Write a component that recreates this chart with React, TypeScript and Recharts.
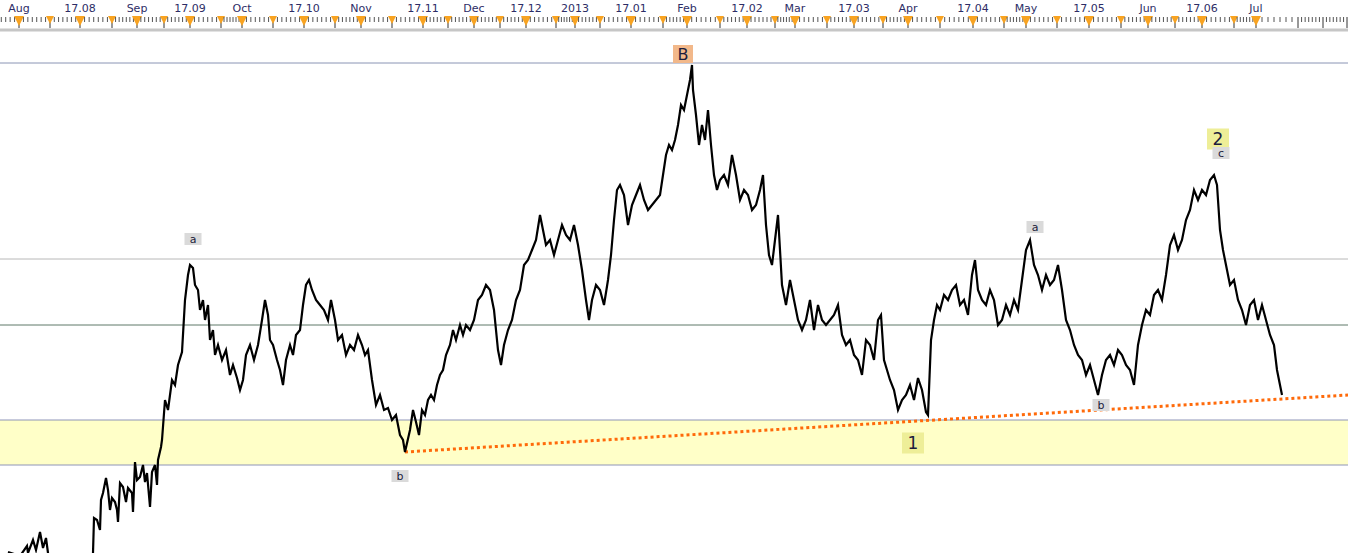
import React from 'react';
import {
    ComposedChart,
    Line,
    XAxis,
    YAxis,
    ReferenceLine,
    ReferenceArea,
    ReferenceDot,
} from 'recharts';

// bar 0 = 1 Aug 2012, one bar per plot pixel
const closes: [number, number][] = [
    [-11, 1.2001], [1, 1.1997], [8, 1.2007], [9, 1.2000], [14, 1.2013], [17, 1.2003], [21, 1.2021],
    [24, 1.2005], [27, 1.2015], [29, 1.2000], [36, 1.1983], [46, 1.1968], [56, 1.1973], [66, 1.1978],
    [73, 1.1993], [74, 1.2000], [75, 1.2035], [78, 1.2033], [81, 1.2023], [82, 1.2053], [84, 1.2060],
    [87, 1.2075], [89, 1.2063], [91, 1.2043], [93, 1.2055], [96, 1.2051], [98, 1.2043], [99, 1.2031],
    [101, 1.2070], [104, 1.2066], [107, 1.2051], [109, 1.2065], [113, 1.2060], [114, 1.2041], [116, 1.2091],
    [118, 1.2073], [121, 1.2076], [124, 1.2088], [126, 1.2071], [128, 1.2080], [131, 1.2046], [133, 1.2081],
    [136, 1.2088], [138, 1.2068], [139, 1.2093], [142, 1.2106], [143, 1.2113], [146, 1.2153], [149, 1.2143],
    [153, 1.2173], [156, 1.2168], [159, 1.2188], [163, 1.2201], [166, 1.2253], [169, 1.2278], [171, 1.2288],
    [174, 1.2285], [176, 1.2268], [179, 1.2263], [181, 1.2243], [184, 1.2253], [186, 1.2233], [189, 1.2248],
    [191, 1.2213], [194, 1.2223], [196, 1.2198], [199, 1.2208], [203, 1.2193], [207, 1.2203], [211, 1.2178],
    [214, 1.2188], [218, 1.2175], [221, 1.2163], [224, 1.2173], [227, 1.2198], [231, 1.2208], [235, 1.2193],
    [239, 1.2208], [243, 1.2233], [246, 1.2253], [249, 1.2238], [251, 1.2213], [254, 1.2208], [258, 1.2193],
    [261, 1.2183], [264, 1.2168], [267, 1.2193], [271, 1.2208], [274, 1.2198], [277, 1.2218], [281, 1.2223],
    [284, 1.2248], [287, 1.2268], [290, 1.2273], [293, 1.2263], [297, 1.2253], [301, 1.2248], [305, 1.2243],
    [309, 1.2233], [312, 1.2253], [316, 1.2233], [319, 1.2213], [323, 1.2218], [327, 1.2198], [331, 1.2208],
    [335, 1.2203], [339, 1.2218], [343, 1.2208], [346, 1.2198], [349, 1.2203], [353, 1.2173], [357, 1.2148],
    [361, 1.2158], [365, 1.2143], [369, 1.2145], [373, 1.2133], [377, 1.2138], [381, 1.2118], [384, 1.2113],
    [386, 1.2101], [391, 1.2123], [394, 1.2143], [397, 1.2131], [400, 1.2118], [403, 1.2143], [406, 1.2138],
    [409, 1.2153], [412, 1.2158], [415, 1.2153], [418, 1.2168], [421, 1.2178], [424, 1.2183], [427, 1.2198],
    [431, 1.2208], [434, 1.2223], [437, 1.2213], [441, 1.2228], [444, 1.2218], [447, 1.2228], [451, 1.2223],
    [455, 1.2233], [459, 1.2253], [463, 1.2258], [467, 1.2268], [471, 1.2263], [475, 1.2243], [479, 1.2203],
    [482, 1.2188], [485, 1.2208], [489, 1.2223], [493, 1.2233], [497, 1.2253], [501, 1.2263], [505, 1.2288],
    [509, 1.2293], [513, 1.2303], [517, 1.2313], [521, 1.2338], [524, 1.2323], [527, 1.2308], [531, 1.2313],
    [535, 1.2298], [539, 1.2313], [543, 1.2328], [547, 1.2318], [551, 1.2313], [555, 1.2328], [559, 1.2308],
    [563, 1.2283], [567, 1.2253], [570, 1.2233], [573, 1.2253], [577, 1.2268], [581, 1.2263], [585, 1.2248],
    [589, 1.2273], [592, 1.2298], [595, 1.2333], [598, 1.2363], [601, 1.2368], [605, 1.2358], [609, 1.2328],
    [613, 1.2348], [617, 1.2358], [621, 1.2368], [625, 1.2353], [629, 1.2343], [633, 1.2348], [637, 1.2353],
    [641, 1.2358], [644, 1.2378], [647, 1.2398], [650, 1.2408], [653, 1.2403], [656, 1.2413], [659, 1.2428],
    [662, 1.2448], [665, 1.2443], [668, 1.2458], [671, 1.2473], [673, 1.2488], [674, 1.2463], [677, 1.2438],
    [680, 1.2408], [683, 1.2428], [686, 1.2413], [689, 1.2443], [692, 1.2408], [695, 1.2378], [698, 1.2363],
    [701, 1.2373], [705, 1.2378], [709, 1.2368], [713, 1.2398], [717, 1.2378], [721, 1.2353], [725, 1.2363],
    [729, 1.2358], [733, 1.2343], [737, 1.2348], [741, 1.2363], [744, 1.2378], [747, 1.2328], [750, 1.2298],
    [753, 1.2288], [756, 1.2313], [759, 1.2338], [763, 1.2268], [767, 1.2248], [771, 1.2273], [775, 1.2253],
    [779, 1.2233], [783, 1.2223], [787, 1.2233], [791, 1.2253], [795, 1.2223], [799, 1.2248], [803, 1.2233],
    [807, 1.2228], [811, 1.2233], [815, 1.2238], [819, 1.2248], [823, 1.2218], [827, 1.2208], [831, 1.2213],
    [835, 1.2198], [839, 1.2193], [843, 1.2178], [847, 1.2213], [851, 1.2208], [855, 1.2193], [859, 1.2233],
    [862, 1.2238], [865, 1.2193], [868, 1.2183], [871, 1.2173], [875, 1.2163], [879, 1.2143], [883, 1.2153],
    [887, 1.2158], [891, 1.2168], [895, 1.2153], [899, 1.2175], [903, 1.2163], [907, 1.2141], [909, 1.2138],
    [912, 1.2213], [915, 1.2233], [918, 1.2248], [921, 1.2243], [925, 1.2258], [929, 1.2253], [933, 1.2263],
    [937, 1.2268], [941, 1.2248], [945, 1.2253], [949, 1.2238], [953, 1.2278], [956, 1.2293], [959, 1.2263],
    [963, 1.2253], [967, 1.2248], [971, 1.2263], [975, 1.2253], [979, 1.2228], [983, 1.2233], [987, 1.2248],
    [991, 1.2238], [995, 1.2253], [999, 1.2243], [1003, 1.2273], [1007, 1.2303], [1011, 1.2313], [1015, 1.2288],
    [1019, 1.2278], [1023, 1.2263], [1027, 1.2278], [1031, 1.2268], [1035, 1.2273], [1039, 1.2288], [1043, 1.2263],
    [1047, 1.2233], [1051, 1.2223], [1055, 1.2208], [1059, 1.2198], [1063, 1.2193], [1067, 1.2178], [1071, 1.2188],
    [1075, 1.2173], [1079, 1.2158], [1083, 1.2178], [1087, 1.2193], [1091, 1.2198], [1095, 1.2188], [1099, 1.2203],
    [1103, 1.2198], [1107, 1.2188], [1111, 1.2183], [1115, 1.2168], [1119, 1.2208], [1123, 1.2228], [1127, 1.2243],
    [1131, 1.2238], [1135, 1.2258], [1139, 1.2263], [1143, 1.2253], [1147, 1.2278], [1151, 1.2308], [1155, 1.2318],
    [1159, 1.2303], [1163, 1.2313], [1167, 1.2333], [1171, 1.2343], [1175, 1.2363], [1179, 1.2353], [1183, 1.2363],
    [1187, 1.2358], [1191, 1.2373], [1195, 1.2378], [1198, 1.2368], [1201, 1.2323], [1204, 1.2303], [1207, 1.2288],
    [1211, 1.2268], [1215, 1.2273], [1219, 1.2253], [1223, 1.2243], [1227, 1.2228], [1231, 1.2248], [1235, 1.2253],
    [1239, 1.2233], [1243, 1.2248], [1247, 1.2233], [1251, 1.2218], [1255, 1.2208], [1258, 1.2183], [1261, 1.2168],
    [1263, 1.2158],
];

const monthTicks = [
    { bar: 0, label: 'Aug' }, { bar: 61, label: '17.08' }, { bar: 118, label: 'Sep' }, { bar: 171, label: '17.09' },
    { bar: 223, label: 'Oct' }, { bar: 285, label: '17.10' }, { bar: 342, label: 'Nov' }, { bar: 404, label: '17.11' },
    { bar: 455, label: 'Dec' }, { bar: 507, label: '17.12' }, { bar: 556, label: '2013' }, { bar: 612, label: '17.01' },
    { bar: 668, label: 'Feb' }, { bar: 728, label: '17.02' }, { bar: 776, label: 'Mar' }, { bar: 835, label: '17.03' },
    { bar: 889, label: 'Apr' }, { bar: 954, label: '17.04' }, { bar: 1007, label: 'May' }, { bar: 1070, label: '17.05' },
    { bar: 1129, label: 'Jun' }, { bar: 1183, label: '17.06' }, { bar: 1237, label: 'Jul' },
];
const midTicks = [31, 93, 145, 202, 254, 316, 373, 429, 481, 537, 581, 644, 701, 756, 808, 864, 921, 985, 1038, 1102, 1156, 1215];
const tailTicks = [1279, 1304, 1328];

const levelB = 1.249;
const levelA = 1.2294;
const levelMid = 1.2228;
const zoneTop = 1.2133;
const zoneBottom = 1.2088;
const trendPoints = [{ bar: 386, price: 1.2101 }, { bar: 1329, price: 1.2158 }];

const waveLabels = [
    { bar: 664, price: 1.2499, text: 'B', kind: 'major' },
    { bar: 174, price: 1.2314, text: 'a', kind: 'minor' },
    { bar: 381, price: 1.2077, text: 'b', kind: 'minor' },
    { bar: 894, price: 1.211, text: '1', kind: 'degree' },
    { bar: 1016, price: 1.2326, text: 'a', kind: 'minor' },
    { bar: 1082, price: 1.2148, text: 'b', kind: 'minor' },
    { bar: 1199, price: 1.2414, text: '2', kind: 'degree' },
    { bar: 1202, price: 1.24, text: 'c', kind: 'minor' },
];

const tagStyle: Record<string, { w: number; h: number; fill: string; size: number }> = {
    major: { w: 20, h: 18, fill: '#F2B88A', size: 16 },
    degree: { w: 22, h: 21, fill: '#EEEE98', size: 17 },
    minor: { w: 17, h: 12, fill: '#DADADA', size: 11 },
};

const series = closes.map(([bar, price]) => ({ bar, price }));

// minor ticks: 7 steps between the marker ticks
const majorBars = [...monthTicks.map((t) => t.bar), ...midTicks, ...tailTicks].sort((a, b) => a - b);
const minorBars: number[] = [];
for (let i = 0; i < majorBars.length - 1; i++) {
    const a = majorBars[i];
    const b = majorBars[i + 1];
    for (let k = 1; k < 7; k++) minorBars.push(a + ((b - a) * k) / 7);
}
{
    const step = (majorBars[1] - majorBars[0]) / 7;
    for (let v = majorBars[0] - step; v > -19; v -= step) minorBars.push(v);
}
const allTicks = [...majorBars, ...minorBars].sort((a, b) => a - b);

const labelByBar = new Map(monthTicks.map((t) => [t.bar, t.label]));
const midSet = new Set(midTicks);
const tailSet = new Set(tailTicks);

const FONT = '"DejaVu Sans", Verdana, sans-serif';

const TopTick = (props: any) => {
    const { x, payload } = props;
    const v = payload.value;
    if (labelByBar.has(v)) {
        return (
            <g>
                <line x1={x} x2={x} y1={17} y2={28} stroke="#333" />
                <polygon points={`${x - 5},16 ${x + 5},16 ${x},26`} fill="#F8A321" />
                <text x={x} y={12} textAnchor="middle" fontSize={11} fill="#2d2d66" fontFamily={FONT}>
                    {labelByBar.get(v)}
                </text>
            </g>
        );
    }
    if (midSet.has(v)) {
        return (
            <g>
                <line x1={x} x2={x} y1={17} y2={28} stroke="#333" />
                <polygon points={`${x - 4},16 ${x + 4},16 ${x},24`} fill="#F8A321" />
            </g>
        );
    }
    if (tailSet.has(v)) {
        return <line x1={x} x2={x} y1={17} y2={28} stroke="#333" />;
    }
    return <line x1={x} x2={x} y1={17} y2={22} stroke="#555" />;
};

const WaveTag = ({ cx, cy, text, kind }: any) => {
    const s = tagStyle[kind];
    return (
        <g>
            <rect x={cx - s.w / 2} y={cy - s.h / 2} width={s.w} height={s.h} fill={s.fill} />
            <text
                x={cx}
                y={cy + s.size * 0.36}
                textAnchor="middle"
                fontSize={s.size}
                fill="#1c1c3c"
                fontFamily={FONT}
            >
                {text}
            </text>
        </g>
    );
};

const App = () => {
    return (
        <div style={{ position: 'absolute', left: 0, top: 0, width: 1348, height: 553, background: '#fff' }}>
            <ComposedChart width={1348} height={553} data={series} margin={{ top: 0, right: 0, bottom: 0, left: 0 }}>
                <XAxis
                    dataKey="bar"
                    type="number"
                    orientation="top"
                    domain={[-19, 1329]}
                    allowDataOverflow
                    height={30}
                    ticks={allTicks}
                    interval={0}
                    tick={<TopTick />}
                    tickLine={false}
                    axisLine={{ stroke: '#c6c6c6', strokeWidth: 3 }}
                />
                <YAxis hide type="number" domain={[1.2, 1.2523]} allowDataOverflow />
                <ReferenceArea y1={zoneBottom} y2={zoneTop} fill="#FFFFC8" fillOpacity={1} stroke="none" />
                <ReferenceLine y={zoneTop} stroke="#8e95b8" />
                <ReferenceLine y={zoneBottom} stroke="#8e95b8" />
                <ReferenceLine y={levelMid} stroke="#5f7868" />
                <ReferenceLine y={levelA} stroke="#b8b8b8" />
                <ReferenceLine y={levelB} stroke="#8a94b4" />
                <ReferenceLine
                    segment={trendPoints.map((p) => ({ x: p.bar, y: p.price }))}
                    stroke="#FF6A0A"
                    strokeWidth={3}
                    strokeDasharray="3 3"
                />
                <Line
                    type="linear"
                    dataKey="price"
                    stroke="#000"
                    strokeWidth={2.2}
                    strokeLinejoin="miter"
                    dot={false}
                    isAnimationActive={false}
                />
                {waveLabels.map((w, i) => (
                    <ReferenceDot
                        key={i}
                        x={w.bar}
                        y={w.price}
                        r={0}
                        ifOverflow="visible"
                        shape={(p: any) => <WaveTag cx={p.cx} cy={p.cy} text={w.text} kind={w.kind} />}
                    />
                ))}
            </ComposedChart>
        </div>
    );
};

export default App;
